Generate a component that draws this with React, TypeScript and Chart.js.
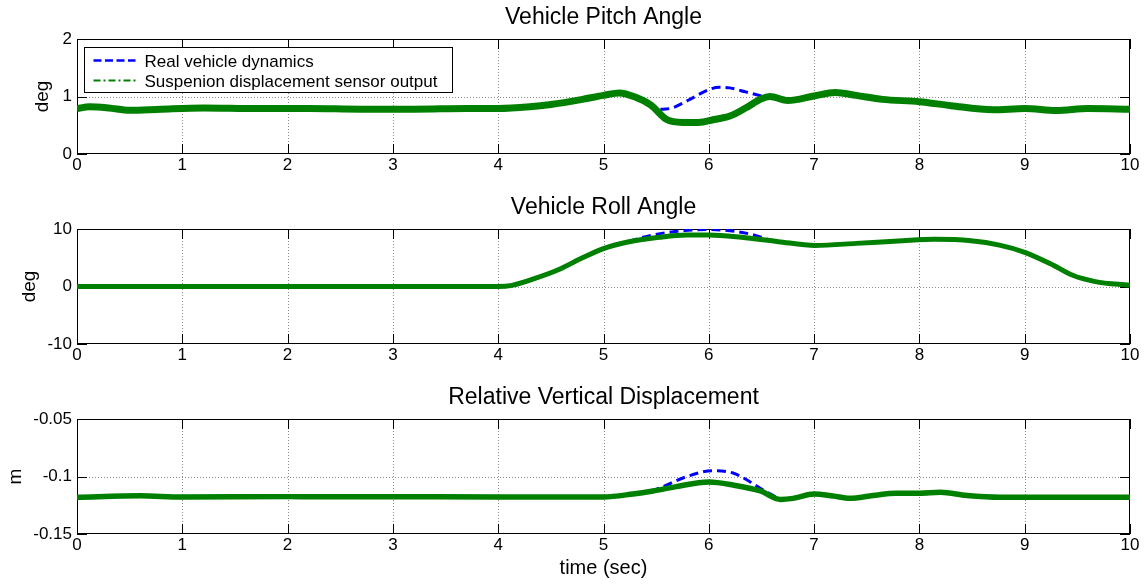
import React, { useEffect, useRef } from "react";
import { Chart, registerables } from "chart.js";

Chart.register(...registerables);

// ---------- text ----------
const titles = ["Vehicle Pitch Angle", "Vehicle Roll Angle", "Relative Vertical Displacement"];
const yLabels = ["deg", "deg", "m"];
const xLabel = "time (sec)";
const seriesLabels = ["Real vehicle dynamics", "Suspenion displacement sensor output"];

// ---------- ticks ----------
const timeTicks = [0, 1, 2, 3, 4, 5, 6, 7, 8, 9, 10];
const pitchTicks = [0, 1, 2];
const rollTicks = [-10, 0, 10];
const dispTicks = [-0.15, -0.1, -0.05];

// ---------- pitch (deg) ----------
const pitchSensorTime = [0, 0.12, 0.3, 0.5, 0.8, 1.2, 1.7, 2.2, 2.7, 3.2, 3.7, 4.0, 4.3, 4.5, 4.8, 5.0, 5.15, 5.3, 5.45, 5.6, 5.75, 5.9, 6.05, 6.2, 6.35, 6.5, 6.58, 6.75, 7.0, 7.2, 7.4, 7.65, 8.0, 8.3, 8.7, 9.0, 9.3, 9.6, 10];
const pitchSensor = [0.79, 0.82, 0.80, 0.76, 0.78, 0.80, 0.79, 0.79, 0.78, 0.78, 0.79, 0.79, 0.82, 0.86, 0.95, 1.02, 1.06, 0.99, 0.85, 0.60, 0.55, 0.55, 0.60, 0.66, 0.80, 0.96, 1.00, 0.93, 1.01, 1.07, 1.02, 0.95, 0.91, 0.84, 0.77, 0.79, 0.755, 0.79, 0.78];
const pitchRealTime = [0, 0.12, 0.3, 0.5, 0.8, 1.2, 1.7, 2.2, 2.7, 3.2, 3.7, 4.0, 4.3, 4.5, 4.8, 5.0, 5.15, 5.3, 5.45, 5.56, 5.65, 5.8, 6.0, 6.1, 6.2, 6.35, 6.5, 6.58, 6.75, 7.0, 7.2, 7.4, 7.65, 8.0, 8.3, 8.7, 9.0, 9.3, 9.6, 10];
const pitchReal = [0.79, 0.82, 0.80, 0.76, 0.78, 0.80, 0.79, 0.79, 0.78, 0.78, 0.79, 0.79, 0.82, 0.86, 0.95, 1.02, 1.06, 0.99, 0.85, 0.78, 0.80, 0.93, 1.12, 1.16, 1.15, 1.08, 1.01, 0.99, 0.93, 1.01, 1.07, 1.02, 0.95, 0.91, 0.84, 0.77, 0.79, 0.755, 0.79, 0.78];

// ---------- roll (deg) ----------
const rollSensorTime = [0, 1, 2, 3, 4.0, 4.13, 4.35, 4.57, 4.79, 5.0, 5.22, 5.53, 5.79, 6.0, 6.31, 6.66, 7.01, 7.4, 7.84, 8.14, 8.49, 8.76, 9.0, 9.24, 9.45, 9.67, 10];
const rollSensor = [0, 0, 0, 0, 0, 0.2, 1.4, 2.9, 4.9, 6.6, 7.7, 8.55, 8.95, 8.95, 8.55, 7.8, 7.15, 7.5, 7.97, 8.2, 7.95, 7.2, 5.95, 4.0, 2.0, 0.85, 0.2];
const rollRealTime = [0, 1, 2, 3, 4.0, 4.13, 4.35, 4.57, 4.79, 5.0, 5.22, 5.45, 5.7, 6.0, 6.25, 6.45, 6.6, 7.01, 7.4, 7.84, 8.14, 8.49, 8.76, 9.0, 9.24, 9.45, 9.67, 10];
const rollReal = [0, 0, 0, 0, 0, 0.2, 1.4, 2.9, 4.9, 6.6, 7.75, 8.9, 9.6, 9.9, 9.6, 8.85, 8.0, 7.15, 7.5, 7.97, 8.2, 7.95, 7.2, 5.95, 4.0, 2.0, 0.85, 0.2];

// ---------- relative vertical displacement (m) ----------
const dispSensorTime = [0, 0.6, 1, 2, 3, 4, 5, 5.28, 5.47, 5.69, 6.0, 6.23, 6.49, 6.68, 6.8, 7.0, 7.18, 7.34, 7.56, 7.78, 8.0, 8.2, 8.45, 8.77, 10];
const dispSensor = [-0.118, -0.1168, -0.1178, -0.1175, -0.1176, -0.1178, -0.1178, -0.1152, -0.1126, -0.1088, -0.1048, -0.1074, -0.1126, -0.1199, -0.119, -0.1152, -0.117, -0.119, -0.1165, -0.1146, -0.1146, -0.1138, -0.1165, -0.118, -0.118];
const dispRealTime = [0, 0.6, 1, 2, 3, 4, 5, 5.28, 5.47, 5.79, 6.04, 6.23, 6.39, 6.52, 6.62, 6.68, 6.8, 7.0, 7.18, 7.34, 7.56, 7.78, 8.0, 8.2, 8.45, 8.77, 10];
const dispReal = [-0.118, -0.1168, -0.1178, -0.1175, -0.1176, -0.1178, -0.1178, -0.1152, -0.112, -0.1001, -0.0949, -0.097, -0.1045, -0.112, -0.117, -0.1199, -0.119, -0.1152, -0.117, -0.119, -0.1165, -0.1146, -0.1146, -0.1138, -0.1165, -0.118, -0.118];

const FONT = "'Liberation Sans', Arial, Helvetica, sans-serif";
const BLUE = "#0000ff";
const GREEN = "#008000";

const toPts = (t: number[], v: number[]) => t.map((x, i) => ({ x, y: v[i] }));

// MATLAB-like axes: dotted grid, box, inward ticks
const matlabAxes = {
  id: "matlabAxes",
  beforeDatasetsDraw(chart: any) {
    const { ctx, chartArea: a, scales } = chart;
    const xs = scales.x;
    const ys = scales.y;
    const L = 10;
    ctx.save();
    ctx.lineWidth = 1;
    // grid
    ctx.strokeStyle = "rgba(0,0,0,0.45)";
    ctx.setLineDash([1, 2]);
    ctx.beginPath();
    xs.ticks.forEach((t: any) => {
      const px = Math.round(xs.getPixelForValue(t.value)) + 0.5;
      if (px > a.left + 2 && px < a.right - 2) {
        ctx.moveTo(px, a.top);
        ctx.lineTo(px, a.bottom);
      }
    });
    ys.ticks.forEach((t: any) => {
      const py = Math.round(ys.getPixelForValue(t.value)) + 0.5;
      if (py > a.top + 2 && py < a.bottom - 2) {
        ctx.moveTo(a.left, py);
        ctx.lineTo(a.right, py);
      }
    });
    ctx.stroke();
    ctx.setLineDash([]);
    // ticks
    ctx.strokeStyle = "#000";
    ctx.beginPath();
    xs.ticks.forEach((t: any) => {
      const px = Math.round(xs.getPixelForValue(t.value)) + 0.5;
      ctx.moveTo(px, a.bottom);
      ctx.lineTo(px, a.bottom - L);
      ctx.moveTo(px, a.top);
      ctx.lineTo(px, a.top + L);
    });
    ys.ticks.forEach((t: any) => {
      const py = Math.round(ys.getPixelForValue(t.value)) + 0.5;
      ctx.moveTo(a.left, py);
      ctx.lineTo(a.left + L, py);
      ctx.moveTo(a.right, py);
      ctx.lineTo(a.right - L, py);
    });
    ctx.stroke();
    // box
    ctx.strokeRect(Math.round(a.left) + 0.5, Math.round(a.top) + 0.5, Math.round(a.right - a.left) - 1, Math.round(a.bottom - a.top) - 1);
    ctx.restore();
  },
};

// legend box drawn inside the first axes
const legendBox = {
  id: "legendBox",
  afterDatasetsDraw(chart: any) {
    const { ctx, chartArea: a } = chart;
    const ds = chart.data.datasets;
    const x0 = Math.round(a.left) + 7.5;
    const y0 = Math.round(a.top) + 8.5;
    const w = 368;
    const h = 45;
    ctx.save();
    ctx.fillStyle = "#fff";
    ctx.fillRect(x0, y0, w, h);
    ctx.strokeStyle = "#000";
    ctx.lineWidth = 1;
    ctx.strokeRect(x0, y0, w, h);
    const rows = [
      { ds: ds[0], y: y0 + 13, dash: [8, 3.5], lw: 2.5 },
      { ds: ds[1], y: y0 + 33, dash: [7, 3, 2, 3], lw: 2.2 },
    ];
    rows.forEach((r) => {
      ctx.strokeStyle = r.ds.borderColor;
      ctx.lineWidth = r.lw;
      ctx.setLineDash(r.dash);
      ctx.beginPath();
      ctx.moveTo(x0 + 9, r.y);
      ctx.lineTo(x0 + 51, r.y);
      ctx.stroke();
      ctx.setLineDash([]);
      ctx.fillStyle = "#000";
      ctx.font = `17px ${FONT}`;
      ctx.textBaseline = "alphabetic";
      ctx.textAlign = "left";
      ctx.fillText(r.ds.label, x0 + 60, r.y + 6);
    });
    ctx.restore();
  },
};

type PanelOpts = {
  title: string;
  yLabel: string;
  yTicks: number[];
  yTitlePad: number;
  realPts: any[];
  sensorPts: any[];
  sensorWidth: number;
  xAxisHeight: number;
  showXTitle: boolean;
  legend: boolean;
};

function makeConfig(o: PanelOpts): any {
  return {
    type: "line",
    data: {
      datasets: [
        {
          label: seriesLabels[0],
          data: o.realPts,
          borderColor: BLUE,
          backgroundColor: BLUE,
          borderWidth: 3,
          borderDash: [9, 5],
          pointRadius: 0,
          fill: false,
          cubicInterpolationMode: "monotone",
          order: 1,
        },
        {
          label: seriesLabels[1],
          data: o.sensorPts,
          borderColor: GREEN,
          backgroundColor: GREEN,
          borderWidth: o.sensorWidth,
          pointRadius: 0,
          fill: false,
          cubicInterpolationMode: "monotone",
          order: 0,
        },
      ],
    },
    options: {
      animation: false,
      responsive: false,
      events: [],
      layout: { padding: { left: 0, right: 17, top: 0, bottom: 0 } },
      plugins: {
        legend: { display: false },
        tooltip: { enabled: false },
        title: {
          display: true,
          text: o.title,
          color: "#000",
          fullSize: false,
          font: { family: FONT, size: 23, weight: "normal", lineHeight: 1.2 },
          padding: { top: 3.6, bottom: 7.8 },
        },
      },
      scales: {
        x: {
          type: "linear",
          min: 0,
          max: 10,
          grid: { display: false, drawTicks: false },
          border: { display: false },
          afterBuildTicks: (s: any) => {
            s.ticks = timeTicks.map((v) => ({ value: v }));
          },
          afterFit: (s: any) => {
            s.height = o.xAxisHeight;
          },
          ticks: {
            color: "#000",
            font: { family: FONT, size: 17 },
            padding: 1.3,
            maxRotation: 0,
            autoSkip: false,
            callback: (v: any) => String(v),
          },
          title: {
            display: o.showXTitle,
            text: xLabel,
            color: "#000",
            font: { family: FONT, size: 20 },
            padding: { top: 0, bottom: 4.3 },
          },
        },
        y: {
          type: "linear",
          min: o.yTicks[0],
          max: o.yTicks[o.yTicks.length - 1],
          grid: { display: false, drawTicks: false },
          border: { display: false },
          afterBuildTicks: (s: any) => {
            s.ticks = o.yTicks.map((v) => ({ value: v }));
          },
          afterFit: (s: any) => {
            s.width = 77;
          },
          ticks: {
            color: "#000",
            font: { family: FONT, size: 17 },
            padding: 5,
            autoSkip: false,
            callback: (v: any) => String(v),
          },
          title: {
            display: true,
            text: o.yLabel,
            color: "#000",
            font: { family: FONT, size: 19 },
            padding: { top: o.yTitlePad, bottom: 0 },
          },
        },
      },
    },
    plugins: o.legend ? [matlabAxes, legendBox] : [matlabAxes],
  };
}

export default function App() {
  const c1 = useRef<HTMLCanvasElement>(null);
  const c2 = useRef<HTMLCanvasElement>(null);
  const c3 = useRef<HTMLCanvasElement>(null);

  useEffect(() => {
    const charts: Chart[] = [];
    charts.push(
      new Chart(
        c1.current as HTMLCanvasElement,
        makeConfig({
          title: titles[0],
          yLabel: yLabels[0],
          yTicks: pitchTicks,
          yTitlePad: 31.6,
          realPts: toPts(pitchRealTime, pitchReal),
          sensorPts: toPts(pitchSensorTime, pitchSensor),
          sensorWidth: 7,
          xAxisHeight: 36,
          showXTitle: false,
          legend: true,
        })
      )
    );
    charts.push(
      new Chart(
        c2.current as HTMLCanvasElement,
        makeConfig({
          title: titles[1],
          yLabel: yLabels[1],
          yTicks: rollTicks,
          yTitlePad: 18,
          realPts: toPts(rollRealTime, rollReal),
          sensorPts: toPts(rollSensorTime, rollSensor),
          sensorWidth: 5,
          xAxisHeight: 36,
          showXTitle: false,
          legend: false,
        })
      )
    );
    charts.push(
      new Chart(
        c3.current as HTMLCanvasElement,
        makeConfig({
          title: titles[2],
          yLabel: yLabels[2],
          yTicks: dispTicks,
          yTitlePad: 4.7,
          realPts: toPts(dispRealTime, dispReal),
          sensorPts: toPts(dispSensorTime, dispSensor),
          sensorWidth: 5.5,
          xAxisHeight: 51,
          showXTitle: true,
          legend: false,
        })
      )
    );
    return () => charts.forEach((c) => c.destroy());
  }, []);

  return (
    <div style={{ position: "absolute", left: 0, top: 0, width: 1147, height: 585, background: "#fff" }}>
      <canvas ref={c1} width={1147} height={190} style={{ position: "absolute", left: 0, top: 0 }} />
      <canvas ref={c2} width={1147} height={190} style={{ position: "absolute", left: 0, top: 190 }} />
      <canvas ref={c3} width={1147} height={205} style={{ position: "absolute", left: 0, top: 380 }} />
    </div>
  );
}
